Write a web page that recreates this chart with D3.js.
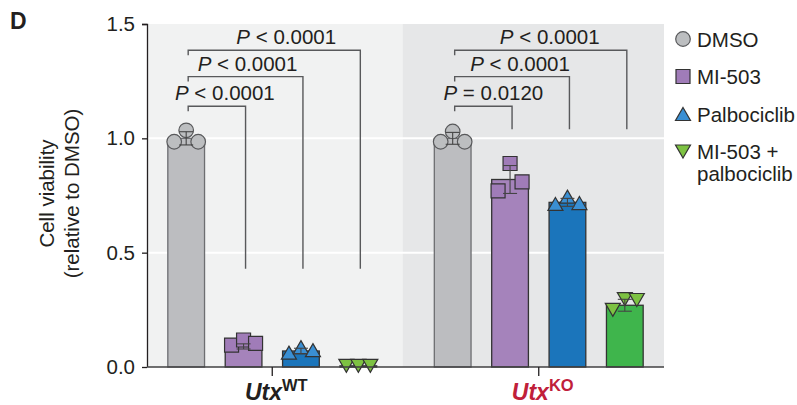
<!DOCTYPE html>
<html>
<head>
<meta charset="utf-8">
<script src="https://cdn.jsdelivr.net/npm/d3@7"></script>
<style>
  body { margin: 0; background: #fff; }
  svg { font-family: "Liberation Sans", Arial, sans-serif; }
</style>
</head>
<body>
<div id="chart"></div>
<script>
// groups and treatments
let groups = ['WT', 'KO'];
let treatments = ['DMSO', 'MI-503', 'Palbociclib', 'MI-503 + palbociclib'];

// bar heights (means) per group, in treatment order
let meansWT = [1.0, 0.09, 0.07, 0.005];
let meansKO = [1.0, 0.82, 0.72, 0.27];

// replicate points per treatment (left, middle, right)
let pointsWT = [
  [0.985, 1.035, 0.985],
  [0.096, 0.118, 0.103],
  [0.063, 0.087, 0.074],
  [0.005, 0.005, 0.005]
];
let pointsKO = [
  [0.985, 1.03, 0.985],
  [0.77, 0.89, 0.81],
  [0.713, 0.745, 0.717],
  [0.25, 0.297, 0.293]
];

// significance brackets: group, to-treatment index, bracket level, leg end, label
let bracketGroup = ['WT', 'WT', 'WT', 'KO', 'KO', 'KO'];
let bracketTo = [1, 2, 3, 1, 2, 3];
let bracketLevel = [1.14, 1.27, 1.385, 1.14, 1.27, 1.385];
let bracketEnd = [0.43, 0.43, 0.43, 1.04, 1.04, 1.04];
let bracketOp = ['<', '<', '<', '=', '<', '<'];
let bracketP = ['0.0001', '0.0001', '0.0001', '0.0120', '0.0001', '0.0001'];

let yTicks = [0.0, 0.5, 1.0, 1.5];

let barColors = ['#bcbdc0', '#a583bb', '#1b75bb', '#3fb54c'];
let markColors = ['#bcbec0', '#a07cb8', '#3a8fd3', '#7dc242'];
let panelColors = ['#f1f2f2', '#e6e7e8'];

let svgWidth = 797;
let svgHeight = 405;
let margin = { top: 24, right: 133, bottom: 38, left: 147 };
let width = svgWidth - margin.left - margin.right;
let height = svgHeight - margin.top - margin.bottom;

let svg = d3.select('#chart')
  .append('svg')
  .attr('width', svgWidth)
  .attr('height', svgHeight);

let chart = svg.append('g')
  .attr('transform', `translate(${margin.left},${margin.top})`);

let xGroup = d3.scaleBand()
  .domain(groups)
  .range([0, width])
  .paddingInner(0.1)
  .paddingOuter(0.02);

let xInner = d3.scaleBand()
  .domain(treatments)
  .range([0, xGroup.bandwidth()])
  .paddingInner(0.36)
  .paddingOuter(0.27);

let y = d3.scaleLinear()
  .domain([0, 1.5])
  .range([height, 0]);

function cx(g, i) {
  return xGroup(g) + xInner(treatments[i]) + xInner.bandwidth() / 2;
}

// panel backgrounds
let split = (xGroup('WT') + xGroup.bandwidth() + xGroup('KO')) / 2 - 3;
chart.append('rect')
  .attr('x', 0).attr('y', 0)
  .attr('width', split).attr('height', height)
  .attr('fill', panelColors[0]);
chart.append('rect')
  .attr('x', split).attr('y', 0)
  .attr('width', width - split).attr('height', height)
  .attr('fill', panelColors[1]);

// white grid lines
chart.selectAll('.grid')
  .data([0.5, 1.0])
  .enter()
  .append('line')
  .attr('x1', 0).attr('x2', width)
  .attr('y1', d => y(d)).attr('y2', d => y(d))
  .attr('stroke', '#fff')
  .attr('stroke-width', 2);

// brackets
let bracketData = bracketGroup.map((g, i) => ({
  g: g, to: bracketTo[i], level: bracketLevel[i], end: bracketEnd[i],
  op: bracketOp[i], p: bracketP[i]
}));

let br = chart.selectAll('.bracket')
  .data(bracketData)
  .enter()
  .append('g');

br.append('path')
  .attr('d', d => {
    let x1 = cx(d.g, 0) + 2;
    let x2 = cx(d.g, d.to) + 2;
    return `M${x1},${y(d.level) + 5}V${y(d.level)}H${x2}V${y(d.end)}`;
  })
  .attr('fill', 'none')
  .attr('stroke', '#58595b')
  .attr('stroke-width', 1.4);

let labelShift = { 'WT': [6, 0, 10], 'KO': [8, 6, 7] };
br.append('text')
  .attr('x', d => (cx(d.g, 0) + cx(d.g, d.to)) / 2 + 4 + labelShift[d.g][d.to - 1])
  .attr('y', d => y(d.level) - 6)
  .attr('text-anchor', 'middle')
  .attr('font-size', 20.5)
  .attr('fill', '#231f20')
  .each(function(d) {
    let t = d3.select(this);
    t.append('tspan').attr('font-style', 'italic').text('P');
    t.append('tspan').text(` ${d.op} ${d.p}`);
  });

// bars
let barData = [];
groups.forEach(g => {
  let means = g === 'WT' ? meansWT : meansKO;
  let pts = g === 'WT' ? pointsWT : pointsKO;
  treatments.forEach((t, i) => {
    barData.push({ g: g, i: i, mean: means[i], pts: pts[i] });
  });
});

chart.selectAll('.bar')
  .data(barData)
  .enter()
  .append('rect')
  .attr('x', d => cx(d.g, d.i) - xInner.bandwidth() / 2)
  .attr('y', d => y(d.mean))
  .attr('width', xInner.bandwidth())
  .attr('height', d => y(0) - y(d.mean))
  .attr('fill', d => barColors[d.i])
  .attr('stroke', d => d.i === 0 ? '#6d6e71' : '#333')
  .attr('stroke-width', 1.3);

// markers
let tri = 15;
function markerPath(i) {
  if (i === 0) return d3.symbol(d3.symbolCircle, Math.PI * 7.3 * 7.3)();
  if (i === 1) return 'M-7,-7H7V7H-7Z';
  if (i === 2) return `M0,${-6.5}L${tri / 2},6.5L${-tri / 2},6.5Z`;
  return `M0,6.5L${tri / 2},-6.5L${-tri / 2},-6.5Z`;
}

let offsets = [-12, 0, 12];
let pointData = [];
barData.forEach(b => {
  b.pts.forEach((v, k) => pointData.push({ g: b.g, i: b.i, v: v, k: k }));
});

chart.selectAll('.pt')
  .data(pointData)
  .enter()
  .append('path')
  .attr('d', d => markerPath(d.i))
  .attr('transform', d => `translate(${cx(d.g, d.i) + offsets[d.k]},${y(d.v)})`)
  .attr('fill', d => markColors[d.i])
  .attr('stroke', d => d.i === 0 ? '#58595b' : '#333')
  .attr('stroke-width', 1.2);

// error bars (sd of replicates around the bar)
barData.forEach(b => {
  let sd = d3.deviation(b.pts) || 0;
  if (sd < 0.004) return;
  let x = cx(b.g, b.i);
  let g = chart.append('g').attr('stroke', '#444').attr('stroke-width', 1.1);
  g.append('line').attr('x1', x).attr('x2', x).attr('y1', y(b.mean - sd)).attr('y2', y(b.mean + sd));
  [b.mean - sd, b.mean + sd].forEach(v => {
    g.append('line').attr('x1', x - 7).attr('x2', x + 7).attr('y1', y(v)).attr('y2', y(v));
  });
});

// y axis
let yAxis = d3.axisLeft(y)
  .tickValues(yTicks)
  .tickFormat(d3.format('.1f'))
  .tickSize(5)
  .tickPadding(7);

let yG = chart.append('g').call(yAxis);
yG.select('.domain').attr('d', `M-5,0.5H0.5V${height}`).attr('stroke', '#231f20').attr('stroke-width', 1.3);
yG.selectAll('.tick line').attr('stroke', '#231f20').attr('stroke-width', 1.3);
yG.selectAll('.tick text')
  .attr('font-size', 20.5)
  .attr('font-family', '"Liberation Sans", Arial, sans-serif')
  .attr('fill', '#231f20');

// x axis
let xG = chart.append('g').attr('transform', `translate(0,${height})`);
xG.append('line')
  .attr('x1', 0).attr('x2', width)
  .attr('stroke', '#414042').attr('stroke-width', 1.5);
xG.selectAll('.gtick')
  .data(groups)
  .enter()
  .append('line')
  .attr('x1', d => xGroup(d) + xGroup.bandwidth() / 2)
  .attr('x2', d => xGroup(d) + xGroup.bandwidth() / 2)
  .attr('y1', 0).attr('y2', 9)
  .attr('stroke', '#231f20').attr('stroke-width', 1.3);

let xl = xG.selectAll('.glabel')
  .data(groups)
  .enter()
  .append('text')
  .attr('x', d => xGroup(d) + xGroup.bandwidth() / 2 + 4)
  .attr('y', 33)
  .attr('text-anchor', 'middle')
  .attr('font-weight', 'bold')
  .attr('fill', d => d === 'KO' ? '#c0203a' : '#231f20');
xl.append('tspan').attr('font-size', 23).attr('font-style', 'italic').text('Utx');
xl.append('tspan').attr('font-size', 16.5).attr('dy', -9).text(d => d);

// y title
let yt = svg.append('text')
  .attr('transform', `translate(54,${margin.top + height / 2 - 2}) rotate(-90)`)
  .attr('text-anchor', 'middle')
  .attr('font-size', 20.5)
  .attr('fill', '#231f20');
yt.append('tspan').attr('x', 0).attr('dy', 0).text('Cell viability');
yt.append('tspan').attr('x', 0).attr('dy', 25).text('(relative to DMSO)');

// panel letter
svg.append('text')
  .attr('x', 10).attr('y', 29)
  .attr('font-size', 23)
  .attr('font-weight', 'bold')
  .attr('fill', '#231f20')
  .text('D');

// legend
let legend = svg.append('g').attr('transform', 'translate(683,39)');
let rows = legend.selectAll('.row')
  .data(treatments)
  .enter()
  .append('g')
  .attr('transform', (d, i) => `translate(0,${i * 37.5})`);
rows.append('path')
  .attr('d', (d, i) => markerPath(i))
  .attr('fill', (d, i) => markColors[i])
  .attr('stroke', (d, i) => i === 0 ? '#58595b' : '#333')
  .attr('stroke-width', 1.2);
rows.append('text')
  .attr('x', 14)
  .attr('y', 7.5)
  .attr('font-size', 20.5)
  .attr('fill', '#231f20')
  .each(function(d) {
    let parts = d === 'MI-503 + palbociclib' ? ['MI-503 +', 'palbociclib'] : [d];
    let t = d3.select(this);
    parts.forEach((p, k) => {
      t.append('tspan').attr('x', 14).attr('dy', k === 0 ? 0 : 22).text(p);
    });
  });
</script>
</body>
</html>
